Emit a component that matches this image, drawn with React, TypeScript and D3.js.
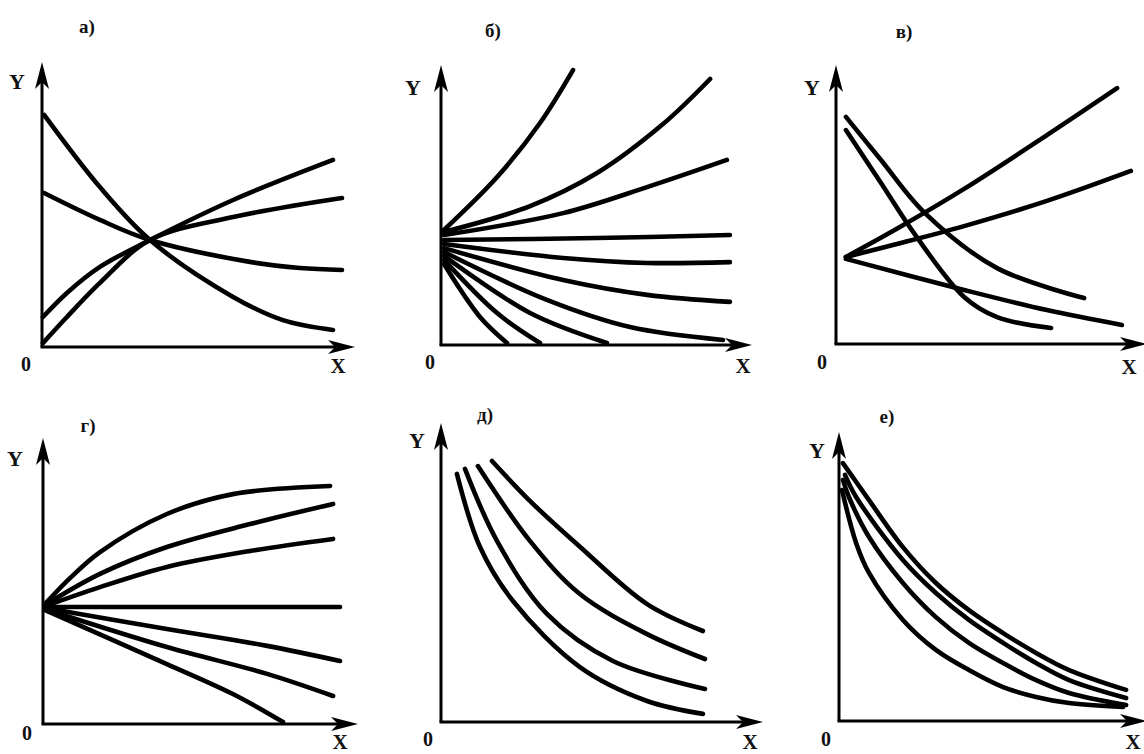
import React from 'react';
import * as d3 from 'd3';

// Six families of curves, one list per panel: every curve is a list of [x, y]
// points (axes run from 0 to 10 in both directions).

const titles = ['а)', 'б)', 'в)', 'г)', 'д)', 'е)'];
const axisNames = ['X', 'Y', '0'];

const curvesA = [
  [[0.07, 8.29], [1.93, 5.71], [3.6, 3.82], [6.37, 1.79], [8.03, 0.96], [9.7, 0.61]],
  [[0.07, 5.5], [1.93, 4.54], [3.6, 3.82], [6.93, 3.04], [8.6, 2.82], [10, 2.75]],
  [[0.03, 1.07], [0.83, 1.93], [1.93, 2.86], [3.6, 3.82], [6.37, 5.25], [9.7, 6.68]],
  [[0.03, 0.14], [0.83, 1.07], [1.93, 2.29], [3.6, 3.82], [6.37, 4.64], [10, 5.32]],
];

const curvesB = [
  [[0.1, 4.11], [1.87, 6.0], [3.3, 7.93], [4.4, 9.82]],
  [[0.1, 4.04], [2.97, 4.96], [5.2, 6.14], [7.4, 7.89], [8.97, 9.5]],
  [[0.1, 3.93], [4.07, 4.71], [6.87, 5.64], [9.53, 6.61]],
  [[0.1, 3.75], [5.2, 3.82], [9.63, 3.93]],
  [[0.1, 3.61], [4.07, 3.11], [6.87, 2.93], [9.63, 2.96]],
  [[0.1, 3.46], [4.07, 2.32], [6.87, 1.79], [9.63, 1.54]],
  [[0.1, 3.32], [3.53, 1.61], [6.3, 0.64], [9.4, 0.18]],
  [[0.1, 3.18], [2.97, 1.14], [5.53, 0.07]],
  [[0.1, 3.04], [1.87, 1.14], [3.3, 0.07]],
  [[0.1, 2.89], [1.3, 1.0], [2.2, 0.07]],
];

const curvesC = [
  [[0.33, 3.11], [2.13, 4.18], [4.27, 5.54], [7.03, 7.46], [9.37, 9.14]],
  [[0.33, 3.11], [2.03, 3.57], [4.27, 4.21], [7.03, 5.11], [9.83, 6.18]],
  [[0.33, 3.04], [4.27, 1.93], [7.03, 1.21], [9.53, 0.68]],
  [[0.33, 8.11], [1.5, 6.57], [2.93, 4.71], [5.37, 2.71], [8.27, 1.64]],
  [[0.33, 7.64], [1.5, 5.75], [2.6, 3.96], [4.27, 1.68], [5.37, 0.96], [7.17, 0.57]],
];

const curvesD = [
  [[0.07, 4.29], [0.9, 5.21], [1.9, 6.14], [4.13, 7.5], [6.33, 8.21], [9.57, 8.5]],
  [[0.07, 4.25], [1.9, 5.36], [4.13, 6.32], [6.9, 7.14], [9.67, 7.86]],
  [[0.07, 4.21], [1.9, 4.89], [4.13, 5.61], [6.9, 6.18], [9.67, 6.61]],
  [[0.07, 4.18], [5, 4.18], [9.9, 4.18]],
  [[0.07, 4.14], [4.13, 3.39], [7.47, 2.79], [9.9, 2.25]],
  [[0.07, 4.1], [4.13, 2.75], [7.47, 1.79], [9.67, 1.0]],
  [[0.07, 4.07], [4.13, 2.14], [6.33, 1.07], [8.0, 0.07]],
];

const curvesE = [
  [[0.53, 8.86], [1.3, 6.25], [2.4, 4.32], [4.63, 1.96], [6.87, 0.75], [8.73, 0.29]],
  [[0.8, 9.04], [1.87, 6.46], [3.53, 3.86], [5.73, 2.18], [8.8, 1.18]],
  [[1.23, 9.14], [2.97, 6.46], [4.63, 4.57], [6.87, 3.14], [8.8, 2.25]],
  [[1.7, 9.32], [2.97, 7.89], [4.63, 6.26], [6.87, 4.21], [8.73, 3.25]],
];

const curvesF = [
  [[0.13, 9.21], [1.0, 7.89], [2.13, 6.21], [3.23, 4.93], [4.33, 3.96], [5.47, 3.14], [6.57, 2.43], [7.67, 1.82], [9.57, 1.11]],
  [[0.2, 8.79], [0.57, 8.0], [2.13, 5.75], [3.23, 4.57], [4.33, 3.61], [5.47, 2.79], [6.57, 2.07], [7.67, 1.46], [9.57, 0.82]],
  [[0.13, 8.61], [0.33, 8.0], [1.0, 6.57], [2.13, 4.93], [3.23, 3.71], [4.33, 2.79], [5.47, 2.07], [6.57, 1.46], [7.67, 1.0], [9.57, 0.57]],
  [[0.1, 8.25], [0.57, 6.36], [1.0, 5.29], [2.13, 3.61], [3.23, 2.54], [4.33, 1.82], [5.47, 1.21], [6.57, 0.86], [7.67, 0.64], [9.47, 0.5]],
];

// where each panel sits on the page
const panels = [
  { curves: curvesA, ox: 42, oy: 347, top: 62, right: 355, title: [87, 26], y: [17, 81], zero: [26, 364], x: [338, 366] },
  { curves: curvesB, ox: 441, oy: 345, top: 65, right: 752, title: [493, 30], y: [413, 87], zero: [430, 362], x: [743, 366] },
  { curves: curvesC, ox: 836, oy: 344, top: 65, right: 1147, title: [904, 31], y: [812, 87], zero: [822, 362], x: [1129, 367] },
  { curves: curvesD, ox: 43, oy: 724, top: 438, right: 358, title: [88, 425], y: [15, 458], zero: [27, 733], x: [340, 742] },
  { curves: curvesE, ox: 441, oy: 722, top: 423, right: 763, title: [485, 414], y: [417, 440], zero: [428, 739], x: [750, 742] },
  { curves: curvesF, ox: 839, oy: 721, top: 432, right: 1147, title: [887, 416], y: [817, 450], zero: [826, 739], x: [1133, 742] },
];

const font = '"Liberation Serif", "DejaVu Serif", serif';

function Panel({ p, title }) {
  const x = d3.scaleLinear().domain([0, 10]).range([p.ox, p.ox + 300]);
  const y = d3.scaleLinear().domain([0, 10]).range([p.oy, p.oy - 280]);
  const line = d3.line()
    .x(d => x(d[0]))
    .y(d => y(d[1]))
    .curve(d3.curveCatmullRom.alpha(0.5));

  const x0 = x(0), y0 = y(0);
  // arrow heads
  const yArrow = `M${x0},${p.top} L${x0 - 7},${p.top + 27} L${x0},${p.top + 20} L${x0 + 7},${p.top + 27} Z`;
  const xArrow = `M${p.right},${y0} L${p.right - 27},${y0 - 7} L${p.right - 20},${y0} L${p.right - 27},${y0 + 7} Z`;

  const txt = (pos, s, size) => (
    <text x={pos[0]} y={pos[1]} textAnchor='middle' dominantBaseline='central'
      fontFamily={font} fontWeight='bold' fontSize={size} fill='#111'>{s}</text>
  );

  return (
    <g>
      {p.curves.map((c, i) => (
        <path key={i} d={line(c)} fill='none' stroke='#000' strokeWidth={4.6} strokeLinecap='round' />
      ))}
      <line x1={x0} y1={y0} x2={x0} y2={p.top + 12} stroke='#000' strokeWidth={3} />
      <line x1={x0 - 1.5} y1={y0} x2={p.right - 12} y2={y0} stroke='#000' strokeWidth={3} />
      <path d={yArrow} fill='#000' />
      <path d={xArrow} fill='#000' />
      {txt(p.title, title, 19)}
      {txt(p.y, axisNames[1], 22)}
      {txt(p.zero, axisNames[2], 20)}
      {txt(p.x, axisNames[0], 21)}
    </g>
  );
}

export default function App() {
  return (
    <svg width={1144} height={754} style={{ position: 'absolute', left: 0, top: 0, background: '#fff' }}>
      <rect width={1144} height={754} fill='#fff' />
      {panels.map((p, i) => <Panel key={i} p={p} title={titles[i]} />)}
    </svg>
  );
}
